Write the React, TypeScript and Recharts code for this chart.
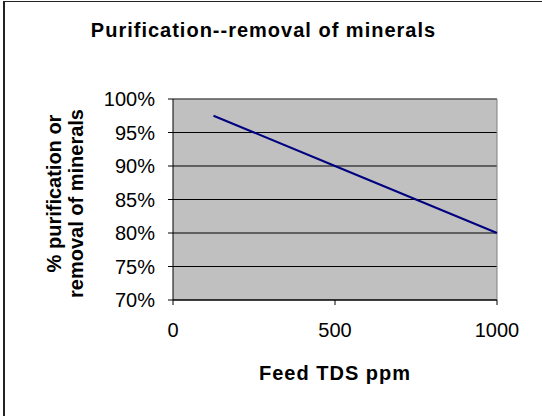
import React from 'react';
import {
  LineChart, Line, XAxis, YAxis, CartesianGrid, ReferenceLine, Label
} from 'recharts';

const feedTds = [125, 250, 500, 750, 1000];
const purification = [97.5, 95, 90, 85, 80];
const xTicks = [0, 500, 1000];
const yTicks = [70, 75, 80, 85, 90, 95, 100];

const data = feedTds.map((tds, i) => ({ tds, pct: purification[i] }));

const FONT = '"Liberation Sans", Arial, sans-serif';

function YTitle(props: any) {
  const vb = props.viewBox;
  const cy = vb.y + vb.height / 2;
  const x1 = vb.x - 12;
  const x2 = vb.x + 10;
  return (
    <g fontFamily={FONT} fontSize={20} fontWeight="bold" fill="#000">
      <text x={x1} y={cy - 6} textAnchor="middle" transform={`rotate(-90, ${x1}, ${cy - 6})`}>
        % purification or
      </text>
      <text x={x2} y={cy + 4} textAnchor="middle" transform={`rotate(-90, ${x2}, ${cy + 4})`}>
        removal of minerals
      </text>
    </g>
  );
}

function XTitle(props: any) {
  const vb = props.viewBox;
  return (
    <text x={vb.x + vb.width / 2} y={vb.y + 80} textAnchor="middle"
      fontFamily={FONT} fontSize={20} fontWeight="bold" letterSpacing={1} fill="#000">
      Feed TDS ppm
    </text>
  );
}

export default function App() {
  return (
    <div style={{ position: 'absolute', left: 0, top: 0, width: 542, height: 416, background: '#fff', overflow: 'hidden', fontFamily: FONT }}>
      <div style={{ position: 'absolute', left: 3, top: 1, width: 560, height: 440, borderLeft: '2px solid #222', borderTop: '1px solid #222' }} />
      <div style={{ position: 'absolute', left: 0, top: 18, width: 527, height: 24, lineHeight: '24px', textAlign: 'center', fontSize: 20, fontWeight: 'bold', letterSpacing: 1, color: '#000' }}>
        Purification--removal of minerals
      </div>
      <LineChart width={542} height={416} data={data}
        margin={{ top: 99, right: 45, left: 73, bottom: 36 }}
        style={{ position: 'absolute', left: 0, top: 0 }}>
        <CartesianGrid vertical={false} stroke="#000" fill="#c0c0c0" fillOpacity={1} />
        <XAxis dataKey="tds" type="number" domain={[0, 1000]} ticks={xTicks}
          height={80} tickSize={5} tickMargin={18}
          axisLine={{ stroke: '#000' }} tickLine={{ stroke: '#000' }}
          tick={{ fill: '#000', fontSize: 20, fontFamily: FONT }}>
          <Label content={<XTitle />} />
        </XAxis>
        <YAxis type="number" domain={[70, 100]} ticks={yTicks} width={100}
          tickSize={5} tickMargin={13} tickFormatter={(v: number) => `${v}%`}
          axisLine={{ stroke: '#000' }} tickLine={{ stroke: '#000' }}
          tick={{ fill: '#000', fontSize: 20, fontFamily: FONT }}>
          <Label content={<YTitle />} />
        </YAxis>
        <ReferenceLine y={100} stroke="#808080" />
        <ReferenceLine x={1000} stroke="#808080" />
        <Line type="linear" dataKey="pct" stroke="#000080" strokeWidth={2} dot={false} isAnimationActive={false} />
      </LineChart>
    </div>
  );
}
